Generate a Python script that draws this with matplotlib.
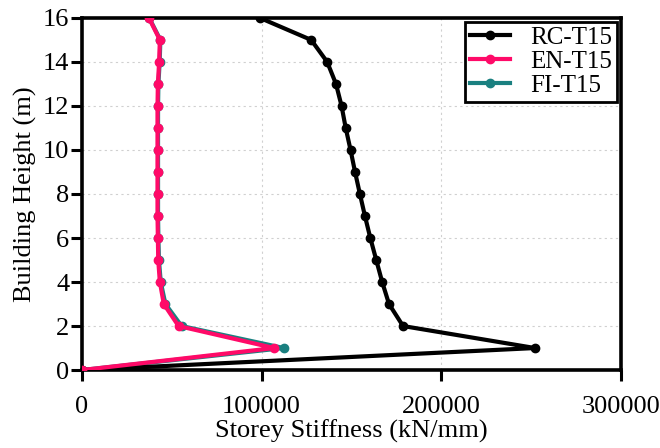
import matplotlib
matplotlib.use("Agg")
import matplotlib.pyplot as plt

heights = list(range(0, 17))
rc_t15 = [0, 252100, 178700, 170900, 167100, 163800, 160500, 157500, 154700, 152000,
          149500, 146800, 144500, 141400, 136500, 127600, 99100]
en_t15 = [0, 107000, 53800, 45600, 43400, 42500, 42300, 42100, 42100, 42100,
          42100, 42100, 42100, 42300, 43000, 43400, 37300]
fi_t15 = [0, 112400, 55500, 46500, 43900, 42900, 42600, 42400, 42400, 42400,
          42400, 42400, 42400, 42600, 43300, 43700, 37500]

xticks = [0, 100000, 200000, 300000]
yticks = [0, 2, 4, 6, 8, 10, 12, 14, 16]

plt.rcParams['font.family'] = ['Liberation Serif', 'DejaVu Serif']
plt.rcParams['font.size'] = 19

fig = plt.figure(figsize=(6.6, 4.48), dpi=100)
ax = fig.add_axes([0.124, 0.174, 0.817, 0.786])

ax.plot(rc_t15, heights, color='black', lw=3, marker='o', ms=6, label='RC-T15', zorder=3)
ax.plot(en_t15, heights, color='#FF0A68', lw=3, marker='o', ms=6, label='EN-T15', zorder=4)
ax.plot(fi_t15, heights, color='#1A8080', lw=3, marker='o', ms=6, label='FI-T15', zorder=2)

ax.set_xlim(0, 300000)
ax.set_ylim(0, 16)
ax.set_xticks(xticks)
ax.set_yticks(yticks)
ax.set_xticklabels([str(v) for v in xticks])
ax.set_yticklabels([str(v) for v in yticks])

ax.grid(True, linestyle=(0, (2, 3)), color='#d0d0d0', lw=0.8)
ax.set_axisbelow(True)
for s in ax.spines.values():
    s.set_linewidth(2.6)
    s.set_color('black')
ax.tick_params(direction='out', length=8, width=2.2, labelsize=19)
ax.tick_params(axis='x', pad=11)
ax.tick_params(axis='y', pad=1)

ax.set_xlabel('Storey Stiffness (kN/mm)', fontsize=19, labelpad=1)
ax.set_ylabel('Building Height (m)', fontsize=19, labelpad=4)

leg = ax.legend(loc='upper right', fontsize=18, fancybox=False, framealpha=1,
                edgecolor='black', borderpad=0.2, labelspacing=0.05, handlelength=1.6,
                handletextpad=0.8, borderaxespad=0.15)
leg.get_frame().set_linewidth(2)

fig.savefig('out.png', dpi=100)
